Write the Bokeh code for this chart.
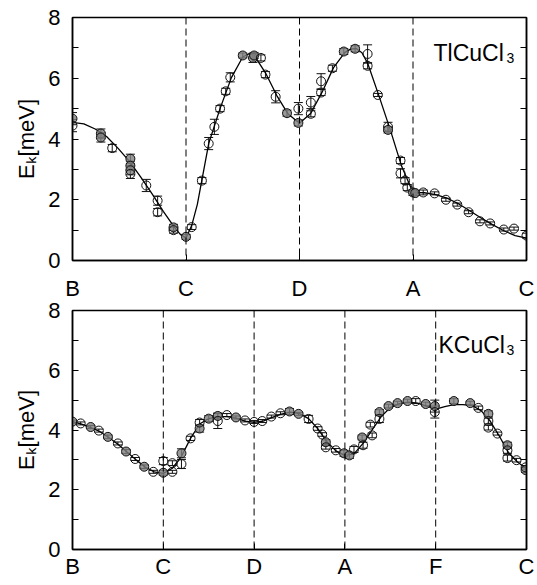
import math
from bokeh.plotting import figure
from bokeh.models import (Range1d, FixedTicker, LinearAxis, Label, Span, Whisker,
                          TeeHead, ColumnDataSource)
from bokeh.layouts import column
from bokeh.embed import file_html
from bokeh.resources import INLINE

# ---------------- TlCuCl3 (top) ----------------
top_ticks = ["B", "C", "D", "A", "C"]
top_x = [0.0, 0.0, 0.25, 0.25, 0.35, 0.51, 0.51, 0.51, 0.51, 0.65, 0.75, 0.75, 0.89, 0.89,
         1.0, 1.05, 1.14, 1.2, 1.25, 1.3, 1.35, 1.39, 1.5, 1.59, 1.6, 1.66, 1.7, 1.79, 1.89,
         1.99, 1.99, 2.1, 2.1, 2.19, 2.19, 2.29, 2.39, 2.49, 2.6, 2.6, 2.69, 2.78, 2.78, 2.89,
         2.89, 2.93, 2.95, 3.0, 3.02, 3.09, 3.19, 3.29, 3.39, 3.49, 3.59, 3.68, 3.8, 3.89, 4.0]
top_y = [4.67, 4.44, 4.18, 4.05, 3.7, 3.35, 3.12, 2.97, 2.85, 2.47, 1.97, 1.59, 1.09, 1.0,
         0.78, 1.1, 2.63, 3.85, 4.4, 5.0, 5.57, 6.03, 6.75, 6.67, 6.75, 6.67, 6.12, 5.39, 4.85,
         4.53, 5.0, 5.2, 4.83, 5.9, 5.53, 6.33, 6.88, 6.97, 6.8, 6.41, 5.45, 4.4, 4.3, 3.29,
         2.87, 2.63, 2.4, 2.24, 2.22, 2.24, 2.21, 2.0, 1.84, 1.59, 1.29, 1.22, 1.02, 1.05, 0.82]
top_err = [0.2, 0.2, 0.15, 0.15, 0.12, 0.15, 0.15, 0.15, 0.15, 0.2, 0.15, 0.12, 0.1, 0.1,
           0.08, 0.08, 0.1, 0.2, 0.25, 0.1, 0.1, 0.15, 0.08, 0.15, 0.1, 0.1, 0.1, 0.2, 0.1,
           0.1, 0.2, 0.2, 0.1, 0.25, 0.1, 0.1, 0.1, 0.1, 0.3, 0.1, 0.05, 0.15, 0.1, 0.1,
           0.15, 0.1, 0.1, 0.1, 0.08, 0.08, 0.05, 0.05, 0.05, 0.05, 0.05, 0.05, 0.05, 0.05, 0.08]
top_fill = [1, 0, 1, 1, 0, 1, 1, 1, 0, 0, 0, 0, 1, 0,
            1, 0, 0, 0, 0, 0, 0, 0, 1, 1, 1, 0, 0, 0, 1,
            1, 0, 0, 0, 0, 0, 0, 1, 1, 0, 0, 0, 0, 1, 0,
            0, 0, 0, 1, 1, 0, 0, 0, 0, 0, 0, 0, 0, 0, 0]
top_curve_x = [0.0, 0.1, 0.2, 0.3, 0.4, 0.5, 0.6, 0.7, 0.8, 0.9, 0.95, 1.0, 1.05, 1.1, 1.2,
               1.3, 1.4, 1.5, 1.55, 1.6, 1.7, 1.8, 1.9, 2.0, 2.1, 2.2, 2.3, 2.4, 2.45, 2.5,
               2.55, 2.6, 2.7, 2.8, 2.9, 3.0, 3.1, 3.2, 3.3, 3.4, 3.5, 3.6, 3.7, 3.8, 3.9, 4.0]
top_curve_y = [4.55, 4.5, 4.33, 4.08, 3.7, 3.27, 2.75, 2.2, 1.62, 1.08, 0.86, 0.74, 1.15, 1.85,
               3.85, 5.0, 6.02, 6.7, 6.8, 6.76, 6.18, 5.43, 4.82, 4.52, 4.85, 5.55, 6.35, 6.85,
               6.96, 6.98, 6.84, 6.5, 5.42, 4.3, 3.1, 2.24, 2.23, 2.17, 2.05, 1.87, 1.64, 1.4,
               1.18, 0.98, 0.82, 0.74]

# ---------------- KCuCl3 (bottom) ----------------
bot_ticks = ["B", "C", "D", "A", "F", "C"]
bot_x = [0.0, 0.09, 0.2, 0.29, 0.39, 0.5, 0.59, 0.69, 0.79, 0.89, 1.0, 1.0, 1.1, 1.1, 1.2,
         1.2, 1.3, 1.4, 1.4, 1.5, 1.6, 1.6, 1.7, 1.8, 1.9, 2.0, 2.09, 2.19, 2.29, 2.39, 2.49,
         2.6, 2.7, 2.75, 2.79, 2.79, 2.9, 2.99, 3.05, 3.1, 3.19, 3.2, 3.28, 3.3, 3.38, 3.38,
         3.48, 3.58, 3.69, 3.78, 3.89, 3.99, 3.99, 4.2, 4.38, 4.47, 4.58, 4.58, 4.58, 4.68,
         4.79, 4.79, 4.79, 4.89, 4.99, 4.99]
bot_y = [4.28, 4.22, 4.1, 3.98, 3.77, 3.55, 3.28, 3.03, 2.77, 2.6, 2.57, 2.96, 2.6, 2.89, 3.22,
         2.86, 3.72, 4.05, 4.25, 4.38, 4.47, 4.3, 4.5, 4.42, 4.32, 4.27, 4.3, 4.45, 4.56, 4.62,
         4.54, 4.37, 4.05, 3.85, 3.59, 3.42, 3.32, 3.22, 3.15, 3.35, 3.75, 3.49, 4.18, 3.82,
         4.6, 4.37, 4.8, 4.9, 4.97, 4.97, 4.87, 4.8, 4.6, 4.97, 4.9, 4.74, 4.54, 4.3, 4.08,
         3.88, 3.49, 3.32, 3.06, 2.99, 2.66, 2.75]
bot_err = [0.05, 0.05, 0.05, 0.05, 0.06, 0.05, 0.07, 0.05, 0.06, 0.05, 0.08, 0.12, 0.05, 0.08,
           0.15, 0.15, 0.07, 0.12, 0.1, 0.1, 0.1, 0.25, 0.05, 0.05, 0.05, 0.05, 0.05, 0.05,
           0.05, 0.1, 0.05, 0.12, 0.06, 0.06, 0.08, 0.06, 0.06, 0.1, 0.1, 0.1, 0.08, 0.1, 0.08,
           0.08, 0.08, 0.12, 0.06, 0.06, 0.06, 0.08, 0.06, 0.2, 0.2, 0.08, 0.06, 0.06, 0.1,
           0.1, 0.08, 0.05, 0.1, 0.1, 0.1, 0.06, 0.08, 0.06]
bot_fill = [1, 0, 1, 0, 1, 0, 1, 0, 1, 0, 1, 0, 0, 0, 1,
            0, 0, 1, 0, 1, 1, 0, 0, 1, 0, 0, 0, 0, 0, 1, 1,
            0, 0, 0, 1, 0, 0, 1, 1, 0, 1, 0, 0, 0, 1, 0,
            1, 1, 1, 0, 1, 1, 0, 1, 1, 0, 1, 0, 0, 0,
            1, 0, 0, 0, 1, 0]
bot_curve_x = [0.0, 0.1, 0.2, 0.3, 0.4, 0.5, 0.6, 0.7, 0.8, 0.9, 1.0, 1.1, 1.2, 1.3, 1.4,
               1.5, 1.6, 1.7, 1.8, 1.9, 2.0, 2.1, 2.2, 2.3, 2.4, 2.5, 2.6, 2.7, 2.8, 2.9, 3.0,
               3.1, 3.2, 3.3, 3.4, 3.5, 3.6, 3.7, 3.8, 3.9, 4.0, 4.1, 4.2, 4.3, 4.4, 4.5, 4.6,
               4.7, 4.8, 4.9, 5.0]
bot_curve_y = [4.28, 4.2, 4.08, 3.95, 3.75, 3.52, 3.26, 3.0, 2.76, 2.6, 2.55, 2.72, 3.12, 3.72,
               4.2, 4.38, 4.45, 4.45, 4.4, 4.3, 4.26, 4.3, 4.42, 4.53, 4.6, 4.55, 4.38, 4.05,
               3.62, 3.3, 3.15, 3.2, 3.55, 4.0, 4.45, 4.75, 4.88, 4.93, 4.9, 4.8, 4.7, 4.78,
               4.85, 4.85, 4.82, 4.65, 4.3, 3.8, 3.25, 2.93, 2.7]

y_ticks = [0, 2, 4, 6, 8]
y_minor = [1, 3, 5, 7]
y_title = "E\u2096[meV]"

FONT = "Liberation Sans"
FRAME_W = 454
FRAME_H = 243


def style_axis(ax):
    ax.major_label_text_font = FONT
    ax.major_label_text_font_size = "22px"
    ax.major_label_text_color = "black"
    ax.axis_line_color = "black"
    ax.axis_line_width = 1.5
    ax.major_tick_in = 6
    ax.major_tick_out = 0
    ax.minor_tick_in = 6
    ax.minor_tick_out = 0
    ax.major_tick_line_color = "black"
    ax.minor_tick_line_color = "black"


def panel(ticks, xs, ys, errs, fills, cx, cy, name, name_dx, b_top, b_bottom,
          show_x_labels=True):
    n = len(ticks) - 1
    height = b_top + FRAME_H + b_bottom
    p = figure(width=72 + FRAME_W + 8, height=height, output_backend="svg",
               toolbar_location=None, x_range=Range1d(0, n), y_range=Range1d(0, 8),
               min_border_left=72, min_border_right=8, min_border_top=b_top,
               min_border_bottom=b_bottom)
    p.xgrid.visible = False
    p.ygrid.visible = False
    p.outline_line_color = "black"
    p.outline_line_width = 1.5
    p.background_fill_color = "white"
    p.border_fill_color = "white"

    xax = p.xaxis[0]
    xax.ticker = FixedTicker(ticks=list(range(n + 1)))
    xax.major_label_overrides = {i: t for i, t in enumerate(ticks)}
    yax = p.yaxis[0]
    yax.ticker = FixedTicker(ticks=y_ticks, minor_ticks=y_minor)
    style_axis(xax)
    style_axis(yax)
    xax.major_label_standoff = 4
    if not show_x_labels:
        xax.major_label_text_font_size = "0px"
        xax.major_label_text_color = None
        xax.major_label_standoff = 0
    yax.major_label_standoff = 12
    yax.axis_label = y_title
    yax.axis_label_text_font = FONT
    yax.axis_label_text_font_size = "22px"
    yax.axis_label_text_font_style = "normal"
    yax.axis_label_text_color = "black"
    yax.axis_label_standoff = 6

    rax = LinearAxis(ticker=FixedTicker(ticks=y_ticks, minor_ticks=y_minor),
                     major_label_text_font_size="0px", major_label_text_color=None,
                     major_tick_in=6, major_tick_out=0,
                     minor_tick_in=6, minor_tick_out=0, major_label_standoff=0,
                     axis_line_color="black", axis_line_width=1.5)
    p.add_layout(rax, "right")

    for i in range(1, n):
        p.add_layout(Span(location=i, dimension="height", line_color="black",
                          line_width=1, line_dash="7 4"))

    p.line(cx, cy, line_color="black", line_width=1.3)

    src = ColumnDataSource(dict(
        x=xs, y=ys,
        lo=[y - e for y, e in zip(ys, errs)],
        up=[y + e for y, e in zip(ys, errs)],
        fill=["#808080" if f else "white" for f in fills],
        alpha=[0.8 if f else 0.0 for f in fills],
    ))
    p.add_layout(Whisker(source=src, base="x", lower="lo", upper="up",
                         line_color="#111111", line_width=1,
                         lower_head=TeeHead(size=9, line_color="#111111", line_width=1),
                         upper_head=TeeHead(size=9, line_color="#111111", line_width=1)))
    p.scatter("x", "y", source=src, marker="circle", size=9, line_color="#111111",
              line_width=1, fill_color="fill", fill_alpha="alpha")

    ppu = FRAME_W / n
    ppy = FRAME_H / 8
    p.add_layout(Label(x=n - name_dx / ppu, y=8 - 35 / ppy, text=name, text_font=FONT,
                       text_font_size="23px", text_baseline="alphabetic",
                       text_align="left", text_color="black"))
    p.add_layout(Label(x=n - 20 / ppu, y=8 - 40 / ppy, text="3", text_font=FONT,
                       text_font_size="14px", text_baseline="alphabetic",
                       text_align="left", text_color="black"))
    return p


# top panel: its B-C-D-A-C labels are drawn in the gap below it (hosted by the
# lower figure through an extra range equal to the upper panel's x range)
p1 = panel(top_ticks, top_x, top_y, top_err, top_fill, top_curve_x, top_curve_y,
           "TlCuCl", 93, 17, 12, show_x_labels=False)
p2 = panel(bot_ticks, bot_x, bot_y, bot_err, bot_fill, bot_curve_x, bot_curve_y,
           "KCuCl", 88, 36, 30)
p2.extra_x_ranges = {"upper": p1.x_range}
up_ax = LinearAxis(x_range_name="upper",
                   ticker=FixedTicker(ticks=list(range(len(top_ticks)))),
                   major_label_overrides={i: t for i, t in enumerate(top_ticks)},
                   major_label_text_font=FONT, major_label_text_font_size="22px",
                   major_label_text_color="black", major_label_standoff=4,
                   major_tick_line_color=None, minor_tick_line_color=None,
                   axis_line_color=None)
p2.add_layout(up_ax, "above")

layout = column(p1, p2, spacing=0)
open("out.html", "w").write(file_html(layout, INLINE))
